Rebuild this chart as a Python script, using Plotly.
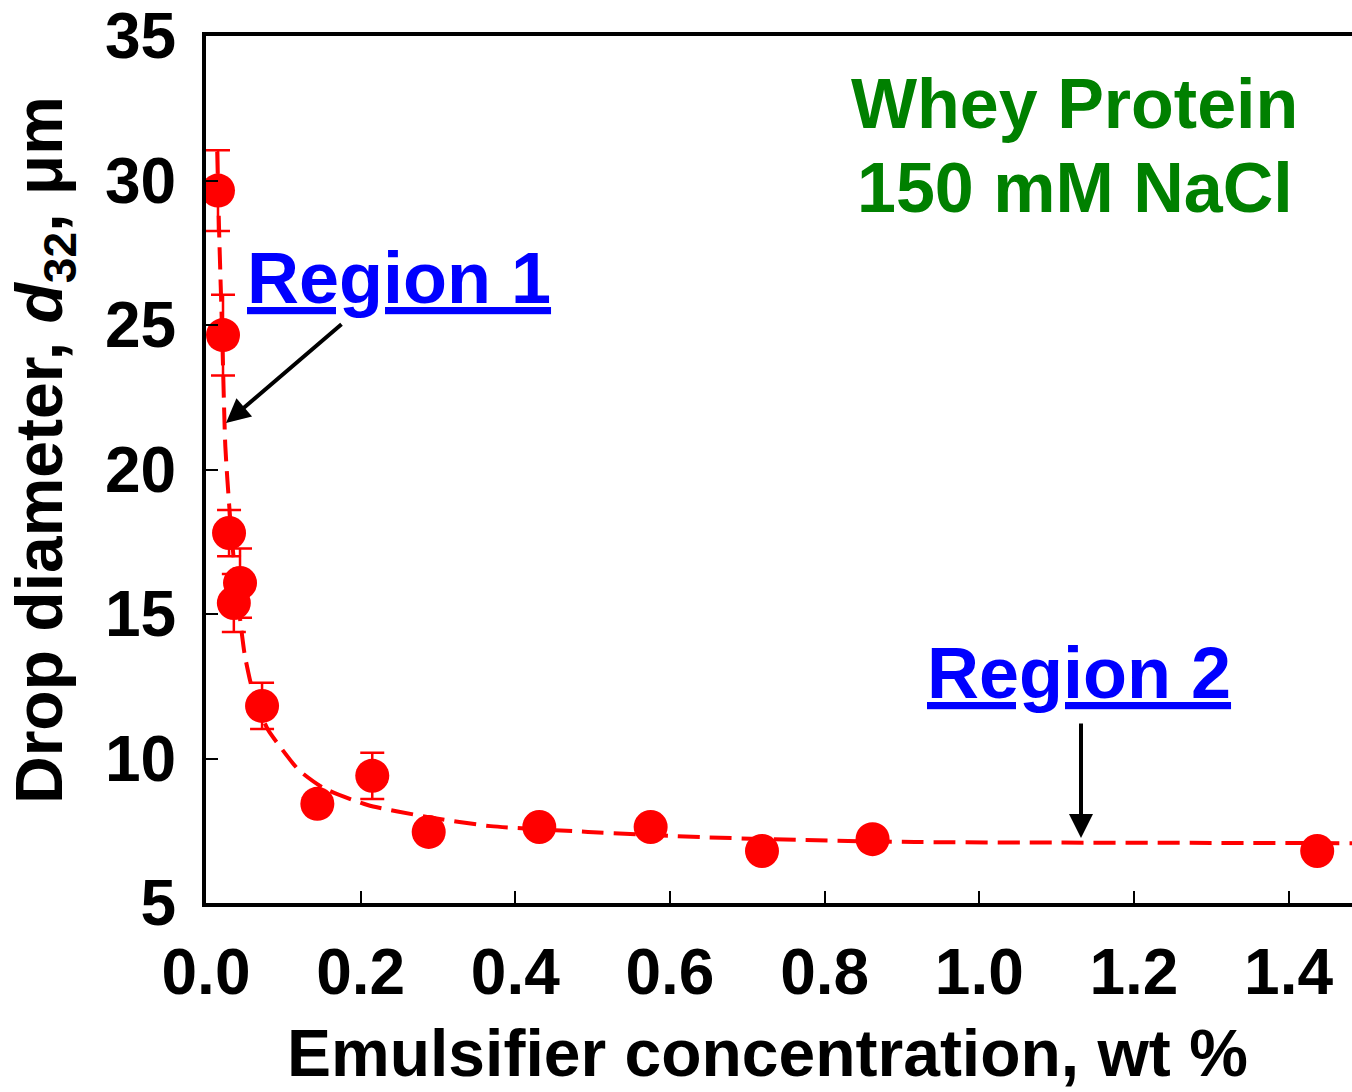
import plotly.graph_objects as go

# ---- data ----
conc = [0.0155, 0.022, 0.0298, 0.036, 0.044, 0.0725, 0.144, 0.215, 0.288, 0.431, 0.575, 0.719, 0.862, 1.437]
d32 = [29.65, 24.65, 17.8, 15.38, 16.07, 11.82, 8.43, 9.4, 7.46, 7.63, 7.63, 6.8, 7.21, 6.8]
d32_err = [1.4, 1.4, 0.8, 1.0, 1.2, 0.8, 0.3, 0.8, 0.3, 0.3, 0.3, 0.3, 0.3, 0.3]

fit_x = [0.0145, 0.017, 0.021, 0.025, 0.031, 0.039, 0.046, 0.050, 0.057, 0.064, 0.080, 0.096, 0.120,
         0.152, 0.209, 0.286, 0.368, 0.494, 0.64, 0.77, 0.916, 1.1, 1.3, 1.482]
fit_y = [31.0, 28.2, 24.6, 20.8, 18.4, 16.0, 14.4, 13.6, 12.7, 12.0, 11.0, 10.4, 9.6,
         8.98, 8.39, 7.98, 7.66, 7.46, 7.28, 7.18, 7.11, 7.09, 7.08, 7.07]

x_ticks = [0.0, 0.2, 0.4, 0.6, 0.8, 1.0, 1.2, 1.4]
x_tick_labels = ["0.0", "0.2", "0.4", "0.6", "0.8", "1.0", "1.2", "1.4"]
y_ticks = [5, 10, 15, 20, 25, 30, 35]

FONT = "Liberation Sans, Arial, sans-serif"
RED = "#ff0000"

# layout geometry (pixels)
W, H = 1352, 1092
L, R, T, B = 206, 0, 36, 189
X0, X1 = 0.0, 1.482
Y0, Y1 = 5, 35


def px2paper_x(px):
    return (px - L) / (W - L - R)


def px2paper_y(py):
    return (H - B - py) / (H - B - T)


fig = go.Figure()

fig.add_trace(go.Scatter(
    x=fit_x, y=fit_y, mode="lines",
    line=dict(color=RED, width=4, dash="22px,10px", shape="spline", smoothing=0.6),
    hoverinfo="skip", showlegend=False,
))

fig.add_trace(go.Scatter(
    x=conc, y=d32, mode="markers",
    marker=dict(color=RED, size=34, line=dict(width=0)),
    error_y=dict(type="data", array=d32_err, visible=True, color=RED, thickness=2.5, width=12),
    showlegend=False,
))

annotations = [
    dict(text="<b>Emulsifier concentration, wt %</b>", xref="paper", yref="paper",
         x=px2paper_x(767), y=px2paper_y(1053), xanchor="center", yanchor="middle",
         showarrow=False, font=dict(family=FONT, size=66, color="black")),
    dict(text="<b>Drop diameter, <i>d</i><sub>32</sub>, μm</b>", xref="paper", yref="paper",
         x=px2paper_x(44), y=px2paper_y(450), xanchor="center", yanchor="middle",
         textangle=-90, showarrow=False, font=dict(family=FONT, size=66, color="black")),
    dict(text="<b>Whey Protein</b>", xref="paper", yref="paper",
         x=px2paper_x(1074), y=px2paper_y(104), xanchor="center", yanchor="middle",
         showarrow=False, font=dict(family=FONT, size=70, color="#008000")),
    dict(text="<b>150 mM NaCl</b>", xref="paper", yref="paper",
         x=px2paper_x(1075), y=px2paper_y(188), xanchor="center", yanchor="middle",
         showarrow=False, font=dict(family=FONT, size=70, color="#008000")),
    dict(text="<b>Region 1</b>", xref="paper", yref="paper",
         x=px2paper_x(399), y=px2paper_y(278), xanchor="center", yanchor="middle",
         showarrow=False, font=dict(family=FONT, size=72, color="#0000ff", lineposition="under")),
    dict(text="<b>Region 2</b>", xref="paper", yref="paper",
         x=px2paper_x(1079), y=px2paper_y(673), xanchor="center", yanchor="middle",
         showarrow=False, font=dict(family=FONT, size=72, color="#0000ff", lineposition="under")),
    # arrows
    dict(text="", xref="paper", yref="paper",
         x=px2paper_x(226), y=px2paper_y(423), ax=117, ay=-100,
         showarrow=True, arrowhead=2, arrowsize=1.2, arrowwidth=4, arrowcolor="black"),
    dict(text="", xref="paper", yref="paper",
         x=px2paper_x(1081), y=px2paper_y(838), ax=0, ay=-116,
         showarrow=True, arrowhead=2, arrowsize=1.2, arrowwidth=4, arrowcolor="black"),
]

fig.update_layout(
    width=W, height=H,
    margin=dict(l=L, r=R, t=T, b=B, pad=0),
    paper_bgcolor="white", plot_bgcolor="white",
    annotations=annotations,
    xaxis=dict(range=[X0, X1], tickvals=x_ticks, ticktext=x_tick_labels,
               ticks="inside", ticklen=12, tickwidth=2, tickcolor="black",
               showline=True, linewidth=4, linecolor="black", mirror=True,
               showgrid=False, zeroline=False, ticklabelstandoff=10,
               tickfont=dict(family=FONT, size=64, color="black", weight="bold")),
    yaxis=dict(range=[Y0, Y1], tickvals=y_ticks,
               ticks="inside", ticklen=12, tickwidth=2, tickcolor="black",
               showline=True, linewidth=4, linecolor="black", mirror=False,
               showgrid=False, zeroline=False, ticklabelstandoff=13,
               tickfont=dict(family=FONT, size=64, color="black", weight="bold")),
)

fig.write_html("out.html")
